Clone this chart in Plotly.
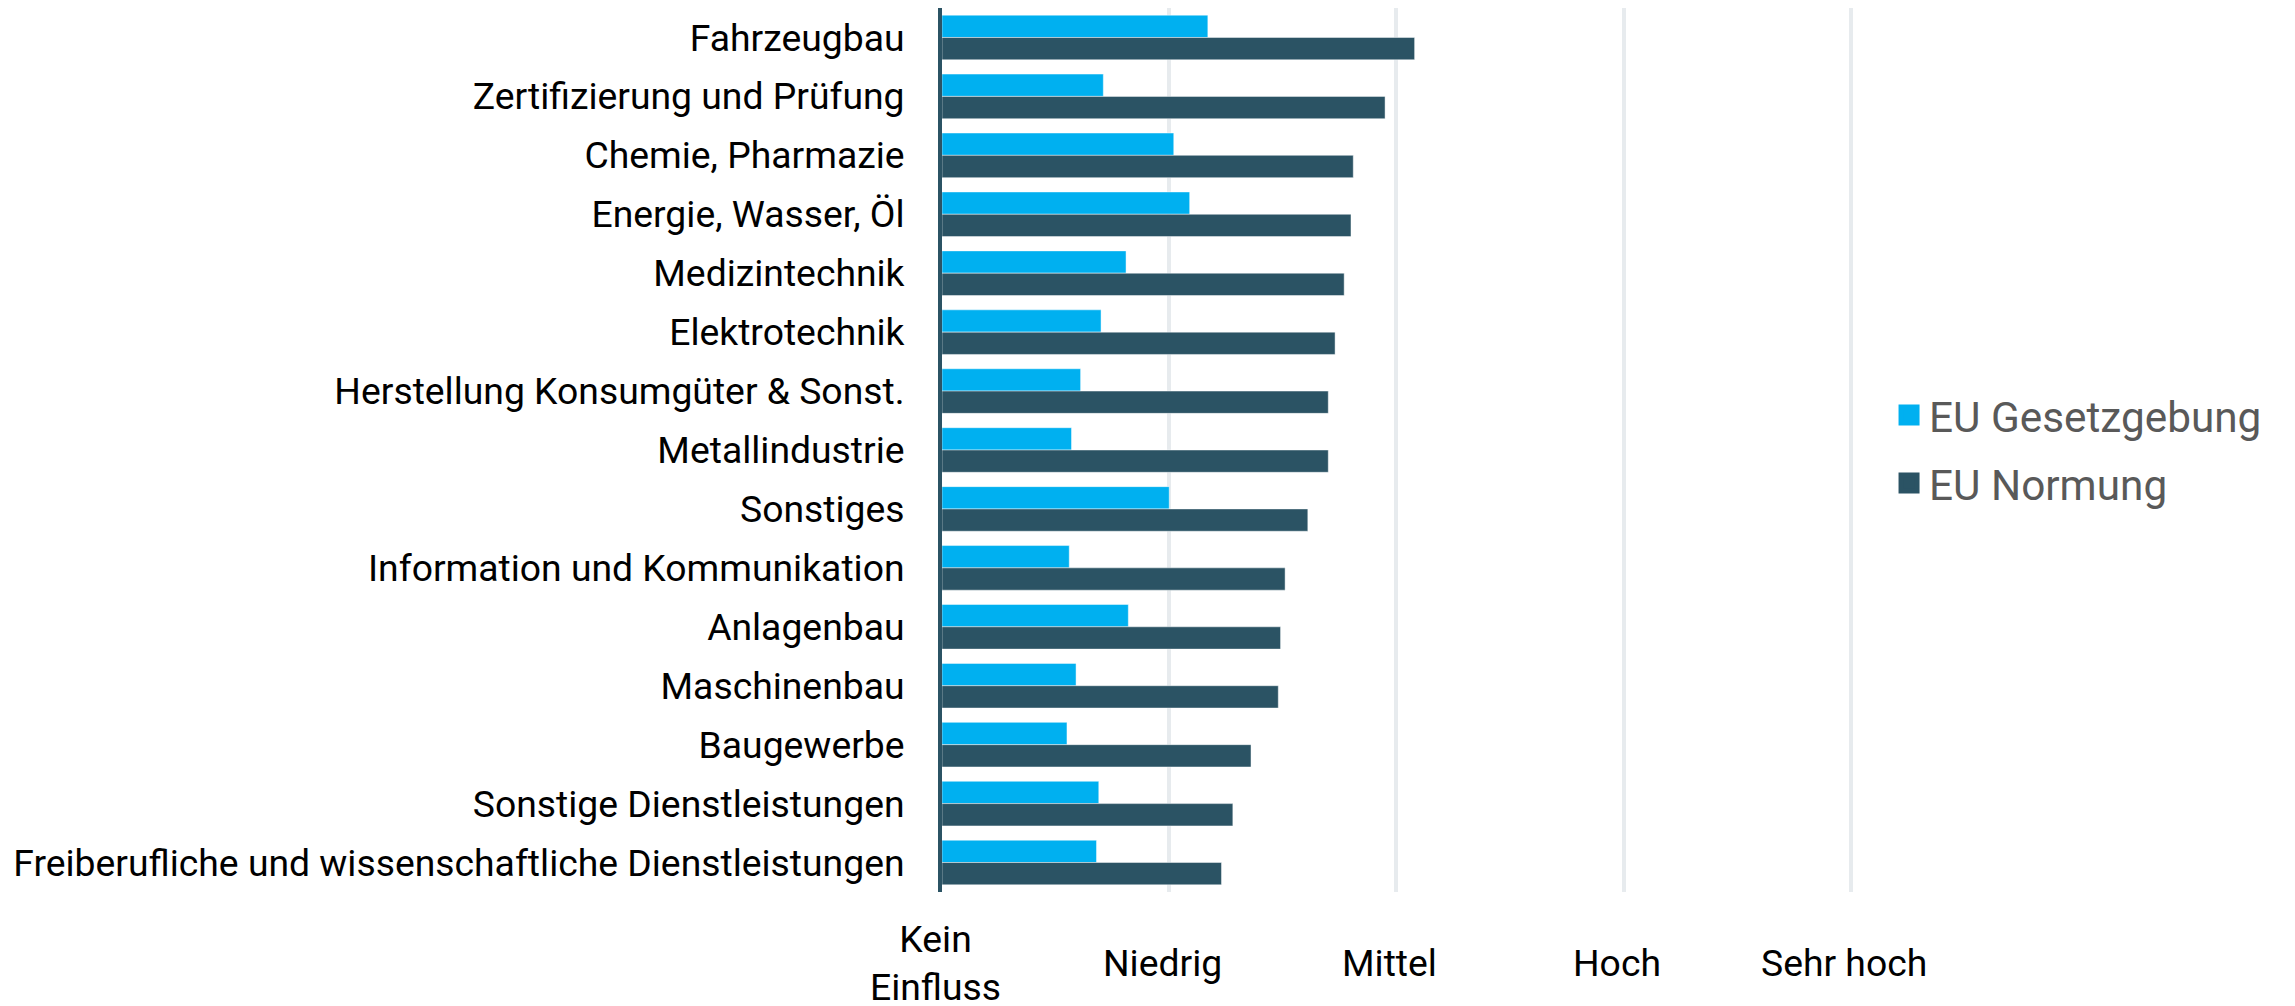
import plotly.graph_objects as go

categories = [
    "Fahrzeugbau",
    "Zertifizierung und Prüfung",
    "Chemie, Pharmazie",
    "Energie, Wasser, Öl",
    "Medizintechnik",
    "Elektrotechnik",
    "Herstellung Konsumgüter & Sonst.",
    "Metallindustrie",
    "Sonstiges",
    "Information und Kommunikation",
    "Anlagenbau",
    "Maschinenbau",
    "Baugewerbe",
    "Sonstige Dienstleistungen",
    "Freiberufliche und wissenschaftliche Dienstleistungen",
]
eu_gesetzgebung = [1.17, 0.71, 1.02, 1.09, 0.81, 0.70, 0.61, 0.57, 1.00, 0.56, 0.82, 0.59, 0.55, 0.69, 0.68]
eu_normung = [2.08, 1.95, 1.81, 1.80, 1.77, 1.73, 1.70, 1.70, 1.61, 1.51, 1.49, 1.48, 1.36, 1.28, 1.23]
series_names = ["EU Gesetzgebung", "EU Normung"]
series_colors = ["#00B0F0", "#2B5364"]
tick_vals = [0, 1, 2, 3, 4]
tick_labels = ["Kein<br>Einfluss", "Niedrig", "Mittel", "Hoch", "Sehr hoch"]

W, H = 2295, 1006
ML, MR, MT, MB = 934, 451, 0, 122

fig = go.Figure()
for name, vals, col in zip(series_names, [eu_gesetzgebung, eu_normung], series_colors):
    fig.add_trace(go.Bar(
        y=categories, x=vals, orientation="h", name=name,
        marker=dict(color=col, line=dict(width=1, color="rgba(255,255,255,0.45)")),
        showlegend=False,
    ))
# legend entries (larger square symbols)
for i, (name, col) in enumerate(zip(series_names, series_colors)):
    fig.add_trace(go.Scatter(
        x=[None], y=[None], mode="markers", name=name, legendgroup="g%d" % i,
        marker=dict(symbol="square", size=16, color=col, line=dict(width=5, color=col)),
    ))

for v, t in zip(tick_vals, tick_labels):
    fig.add_annotation(
        x=v, y=0, xref="x", yref="paper", text=t, showarrow=False,
        xanchor="center", yanchor="middle", yshift=-71, xshift=-7,
        font=dict(family="Roboto", size=37.3, color="#000000"),
    )

fig.update_layout(
    width=W, height=H,
    margin=dict(l=ML, r=MR, t=MT, b=MB, pad=0),
    paper_bgcolor="white", plot_bgcolor="white",
    barmode="group", bargap=0.243, bargroupgap=0,
    font=dict(family="Roboto", size=37.3, color="#000000"),
    showlegend=True,
    legend=dict(
        x=1.0407, y=0.5011, xanchor="left", yanchor="middle",
        font=dict(family="Roboto", size=42.3, color="#595959"),
        bgcolor="rgba(0,0,0,0)", borderwidth=0,
        traceorder="grouped", tracegroupgap=10,
    ),
)
fig.update_xaxes(
    range=[0, 4.005], tickvals=tick_vals, showticklabels=False,
    showgrid=True, gridcolor="#E7EBEE", gridwidth=4,
    zeroline=False, showline=False, ticks="",
    fixedrange=True,
)
fig.update_yaxes(
    autorange="reversed", type="category",
    showline=True, linecolor="#2B5364", linewidth=4, layer="above traces",
    showgrid=False, zeroline=False, ticks="",
    ticklabelstandoff=26,
    tickfont=dict(family="Roboto", size=37.3, color="#000000"),
)

fig.write_html("out.html")
